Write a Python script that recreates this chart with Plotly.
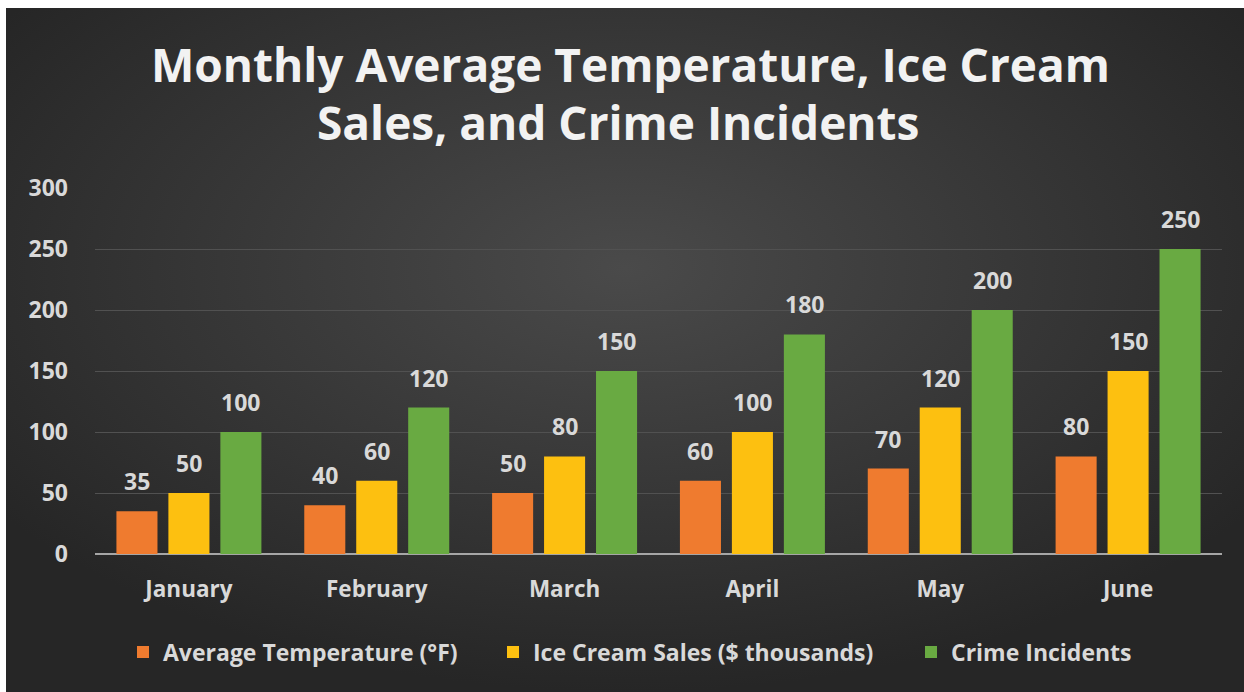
import plotly.graph_objects as go
import urllib.parse

months = ["January", "February", "March", "April", "May", "June"]
avg_temp = [35, 40, 50, 60, 70, 80]
ice_cream = [50, 60, 80, 100, 120, 150]
crime = [100, 120, 150, 180, 200, 250]
series_names = ["Average Temperature (°F)", "Ice Cream Sales ($ thousands)", "Crime Incidents"]
series_values = [avg_temp, ice_cream, crime]
series_colors = ["#EF7B2F", "#FDC010", "#69AA42"]
y_ticks = [0, 50, 100, 150, 200, 250, 300]
title_lines = ["Monthly Average Temperature, Ice Cream", "Sales, and Crime Incidents"]

# figure placed at page offset (6, 8) -> white strip top/left as in the reference
OX, OY = 6, 8
W, H = 1244 - OX, 692 - OY
ML, MR, MT, MB = 95 - OX, 22, 188 - OY, 138
PW = W - ML - MR
PH = H - MT - MB
BARGAP = 0.17
FONT = "Open Sans"
LABEL_COLOR = "#D9D9D9"


def px_x(px):
    return (px - OX - ML) / PW


def px_y(py):
    return (MT + PH - (py - OY)) / PH


legend_ids = ["legend", "legend2", "legend3"]
legend_text_starts = [165, 535, 953]

fig = go.Figure()
for name, vals, col, lid in zip(series_names, series_values, series_colors, legend_ids):
    fig.add_trace(go.Bar(x=months, y=vals, name=name, legend=lid,
                         marker=dict(color=col, line=dict(width=0))))

# data labels above bars
slot_px = (1 - BARGAP) * (PW / len(months)) / len(series_values)
annotations = []
for i, vals in enumerate(series_values):
    for m, v in zip(months, vals):
        annotations.append(dict(x=m, y=v, text=str(v), showarrow=False, xref="x", yref="y",
                                xshift=(i - 1) * slot_px, yanchor="bottom", yshift=12,
                                font=dict(family=FONT, size=23, color=LABEL_COLOR, weight="bold")))

for line, cx, cy in zip(title_lines, [630, 618], [64, 122]):
    annotations.append(dict(x=px_x(cx), y=px_y(cy), xref="paper", yref="paper", showarrow=False,
                            text=line,
                            font=dict(family=FONT, size=46, color="#F2F2F2", weight="bold"),
                            yanchor="middle", xanchor="center"))

svg = ('<svg xmlns="http://www.w3.org/2000/svg" width="1238" height="684" viewBox="0 0 1238 684" preserveAspectRatio="none">'
       '<defs><radialGradient id="g" cx="50%" cy="38%" r="62%">'
       '<stop offset="0%" stop-color="#4A4A4A"/><stop offset="100%" stop-color="#262626"/>'
       '</radialGradient></defs><rect width="1238" height="684" fill="url(#g)"/></svg>')
src = "data:image/svg+xml;charset=utf-8," + urllib.parse.quote(svg)

legend_style = dict(orientation="h", xanchor="left", yanchor="middle",
                    font=dict(family=FONT, size=23, color=LABEL_COLOR, weight="bold"),
                    bgcolor="rgba(0,0,0,0)", itemwidth=30)
legends = {}
for lid, ts in zip(legend_ids, legend_text_starts):
    legends[lid] = dict(legend_style, x=px_x(ts - 42), y=px_y(652))

fig.update_layout(
    width=W, height=H,
    margin=dict(l=ML, r=MR, t=MT, b=MB, pad=0),
    paper_bgcolor="#2E2E2E",
    plot_bgcolor="rgba(0,0,0,0)",
    barmode="group", bargap=BARGAP, bargroupgap=0.21,
    showlegend=True,
    annotations=annotations,
    images=[dict(source=src, xref="paper", yref="paper", x=-ML / PW, y=(MT + PH) / PH,
                 sizex=W / PW, sizey=H / PH, sizing="stretch", layer="below",
                 xanchor="left", yanchor="top")],
    xaxis=dict(showgrid=False, showline=False, zeroline=False, ticks="",
               ticklabelstandoff=19,
               tickfont=dict(family=FONT, size=22.5, color=LABEL_COLOR, weight="bold")),
    yaxis=dict(range=[0, 300], tickvals=y_ticks, showgrid=True, gridcolor="#515151", gridwidth=1,
               zeroline=True, zerolinecolor="#A6A6A6", zerolinewidth=2, showline=False, ticks="",
               ticklabelstandoff=26,
               tickfont=dict(family=FONT, size=23, color=LABEL_COLOR, weight="bold")),
    hovermode=False,
    **legends,
)

fig.write_html("out.html", post_script="document.body.style.margin='8px 0 0 6px';")
